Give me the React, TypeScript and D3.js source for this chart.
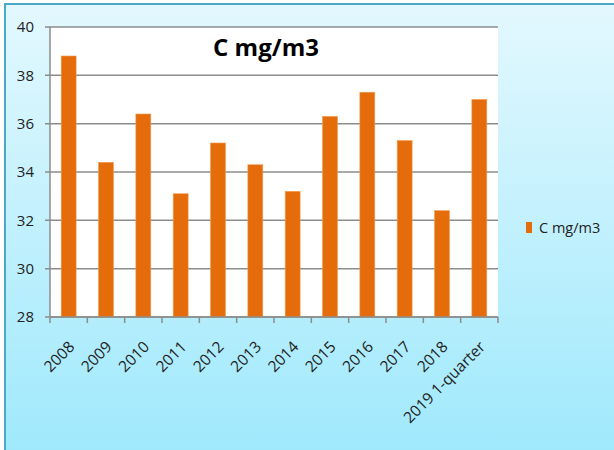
import React from "react";
import * as d3 from "d3";

const categories = ["2008", "2009", "2010", "2011", "2012", "2013", "2014", "2015", "2016", "2017", "2018", "2019 1-quarter"];
const values = [38.8, 34.4, 36.4, 33.1, 35.2, 34.3, 33.2, 36.3, 37.3, 35.3, 32.4, 37.0];
const yTicks = [28, 30, 32, 34, 36, 38, 40];
const seriesName = "C mg/m3";
const title = "C mg/m3";

export default function App() {
  const W = 614, H = 450;
  const left = 50, right = 498, top = 27, bottom = 317;
  const x = d3.scaleBand<string>().domain(categories).range([left, right]).paddingInner(0.6).paddingOuter(0.3);
  const xb = d3.scaleBand<string>().domain(categories).range([left, right]);
  const y = d3.scaleLinear().domain([28, 40]).range([bottom, top]);
  const font = "'Open Sans', sans-serif";
  return (
    <svg width={W} height={H} style={{ position: "absolute", left: 0, top: 0 }}>
      <defs>
        <linearGradient id="bg" x1="0" y1="0" x2="0" y2="1">
          <stop offset="0" stopColor="#e3f8fe" />
          <stop offset="1" stopColor="#9fe9fc" />
        </linearGradient>
      </defs>
      <rect x={0} y={0} width={W} height={H} fill="#fff" />
      <rect x={5} y={4} width={W} height={H} fill="url(#bg)" stroke="#4aa9c4" strokeWidth={2} />
      <rect x={left} y={top} width={right - left} height={bottom - top} fill="#fff" />
      {yTicks.map((t) => (
        <g key={t}>
          <line x1={left - 5} x2={right} y1={y(t)} y2={y(t)} stroke="#8c8c8c" strokeWidth={1.5} />
          <text x={34} y={y(t)} dy="0.35em" textAnchor="end" fontFamily={font} fontSize={15} fill="#222">{t}</text>
        </g>
      ))}
      <line x1={left} x2={left} y1={top} y2={bottom} stroke="#8c8c8c" strokeWidth={1.5} />
      {categories.map((c, i) => (
        <rect key={c} x={x(c)} y={y(values[i])} width={x.bandwidth()} height={bottom - y(values[i])} fill="#e46c0a" stroke="#f39a4f" strokeWidth={0.6} />
      ))}
      <line x1={left} x2={right} y1={bottom} y2={bottom} stroke="#8c8c8c" strokeWidth={1.5} />
      {[...categories.map((c) => xb(c) as number), right].map((v, i) => (
        <line key={i} x1={v} x2={v} y1={bottom} y2={bottom + 6} stroke="#8c8c8c" strokeWidth={1.5} />
      ))}
      {categories.map((c) => {
        const cx = (xb(c) as number) + xb.bandwidth() / 2 + 3;
        const cy = bottom + 27;
        return (
          <text key={c} transform={`translate(${cx},${cy}) rotate(-45)`} textAnchor="end" dy="0.35em" fontFamily={font} fontSize={15.5} fill="#222">{c}</text>
        );
      })}
      <text x={266} y={50} textAnchor="middle" dominantBaseline="middle" fontFamily={font} fontWeight="bold" fontSize={24} fill="#000">{title}</text>
      <rect x={526} y={222} width={6} height={11} fill="#e46c0a" />
      <text x={539} y={228} dy="0.35em" fontFamily={font} fontSize={14.5} fill="#222">{seriesName}</text>
    </svg>
  );
}
